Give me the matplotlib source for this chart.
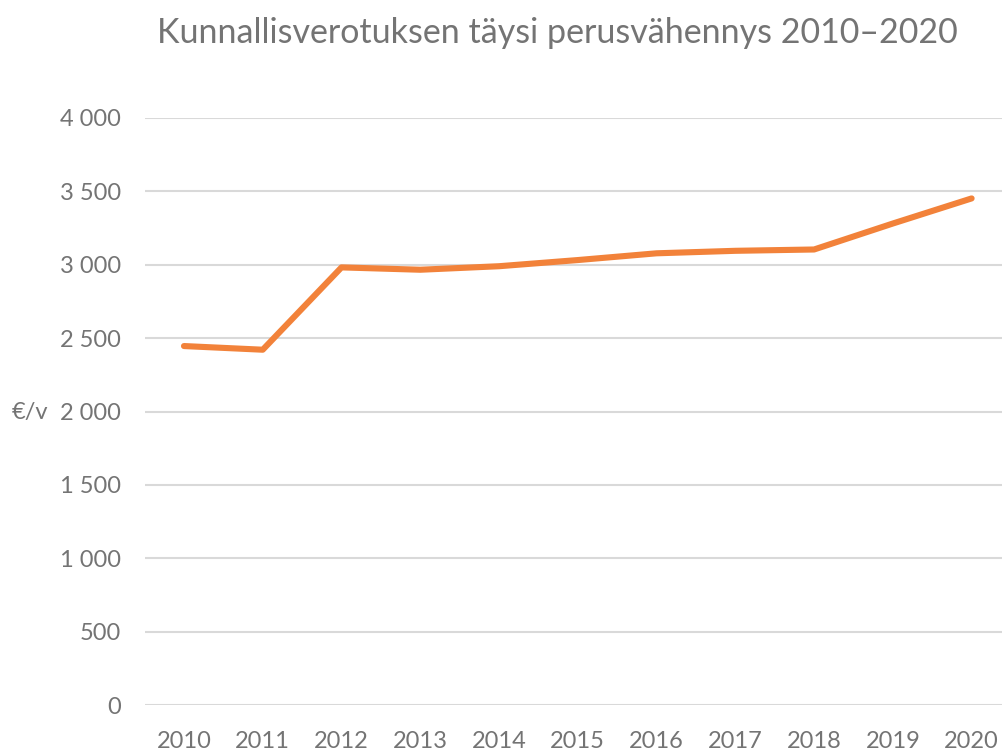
import matplotlib
matplotlib.use("Agg")
import matplotlib.pyplot as plt

years = ["2010", "2011", "2012", "2013", "2014", "2015",
         "2016", "2017", "2018", "2019", "2020"]
values = [2446, 2421, 2982, 2966, 2990, 3032, 3078, 3095, 3104, 3281, 3452]
yticks = [0, 500, 1000, 1500, 2000, 2500, 3000, 3500, 4000]
ytick_labels = ["0", "500", "1 000", "1 500", "2 000", "2 500", "3 000", "3 500", "4 000"]

TEXT = "#747474"
FONT = ["Lato", "DejaVu Sans"]

W, H = 1003, 751
fig = plt.figure(figsize=(W / 100, H / 100), dpi=100)

left = 144.6
right = 1011
bottom = 705
top = 118
ax = fig.add_axes([left / W, 1 - bottom / H, (right - left) / W, (bottom - top) / H])

x = list(range(len(years)))
ax.plot(x, values, color="#F2823A", linewidth=4.4, solid_capstyle="round",
        solid_joinstyle="round", zorder=3)

ax.set_xlim(-0.5, len(years) - 0.5)
ax.set_ylim(0, 4000)
ax.set_yticks(yticks)
ax.set_yticklabels(ytick_labels)
ax.set_xticks(x)
ax.set_xticklabels(years)

for s in ax.spines.values():
    s.set_visible(False)
ax.grid(axis="y", color="#d9d9d9", linewidth=1.5, zorder=0)
ax.tick_params(length=0, labelcolor=TEXT, labelsize=17, pad=17)
ax.tick_params(axis="x", pad=19)
for lab in ax.get_xticklabels() + ax.get_yticklabels():
    lab.set_family(FONT)

fig.text(30 / W, 1 - 412 / H, "€/v", ha="center", va="center", color=TEXT,
         fontsize=17, family=FONT)
fig.text(557 / W, 1 - 33 / H, "Kunnallisverotuksen täysi perusvähennys 2010–2020",
         ha="center", va="center", color=TEXT, fontsize=24.5, family=FONT)

fig.savefig("out.png", dpi=100)
